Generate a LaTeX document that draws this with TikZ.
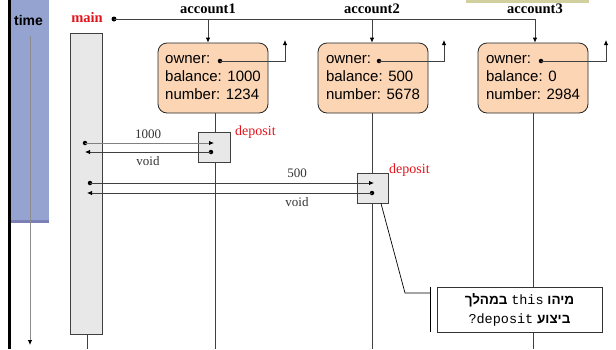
\documentclass[tikz,border=0pt]{standalone}
\usepackage{fontspec}
\setmainfont{Liberation Serif}
\setsansfont{Liberation Sans}
\setmonofont{Liberation Mono}
\newfontfamily\hebfont[Script=Hebrew]{Liberation Sans}
\TeXXeTstate=1
\usetikzlibrary{arrows.meta}
\definecolor{timeblue}{HTML}{95A3D1}
\definecolor{timestripe}{HTML}{7A80B5}
\definecolor{peach}{HTML}{FCD5B4}
\definecolor{actgray}{HTML}{E8E8E8}
\definecolor{linegray}{HTML}{404040}
\definecolor{redtxt}{HTML}{E3141B}
\definecolor{beige}{HTML}{D2D09E}
\newcommand\mytt[1]{{\normalfont\ttfamily\fontsize{13.5}{19}\selectfont #1}}
\begin{document}
\begin{tikzpicture}[x=1pt,y=-1pt,
  obj/.style={draw=black!85, fill=peach, rounded corners=9pt, line width=0.8pt,
    inner sep=0pt, minimum width=110pt, minimum height=70pt,
    align=left, font=\sffamily\fontsize{15}{18}\selectfont},
  act/.style={draw=linegray, fill=actgray, line width=0.8pt, inner sep=0pt},
  pdot/.style={circle, fill=black, inner sep=0pt, minimum size=4.5pt},
  life/.style={draw=linegray, line width=0.8pt},
  arr/.style={-{Latex[length=5pt,width=4.5pt,color=black]}},
  lbl/.style={font=\fontsize{13}{15}\selectfont, text=black!80, inner sep=0pt},
  method/.style={font=\fontsize{14}{16}\selectfont, text=redtxt, anchor=west, inner sep=0pt},
  objname/.style={font=\bfseries\fontsize{14.5}{16}\selectfont, inner sep=0pt},
  note/.style={draw=black!80, fill=white, line width=0.8pt, minimum width=165pt,
    minimum height=45pt, align=center, inner sep=0pt,
    font=\hebfont\bfseries\fontsize{13.5}{19}\selectfont}
]
\useasboundingbox (0,0) rectangle (616,349);
% time band
\fill[timeblue] (10,0) rectangle (49,222);
\fill[timestripe] (10,219.5) rectangle (49,223);
\draw[line width=2.5pt] (9.5,0) -- (9.5,349);
\node[font=\sffamily\bfseries\fontsize{14}{16}\selectfont, inner sep=0pt] (time) at (28.5,20) {time};
\coordinate (ts) at (30,36);
\coordinate (te) at (30,345);
\draw[draw=black!45, line width=0.8pt, arr] (ts) -- (te);
\fill[beige] (466,0) rectangle (589,3);
% main
\node[font=\bfseries\fontsize{14.5}{16}\selectfont, text=redtxt, inner sep=0pt] (mainlbl) at (87,18) {main};
\node[pdot, minimum size=5pt] (md) at (114,19) {};
\coordinate (j1) at (208,19);
\coordinate (j2) at (372,19);
\coordinate (j3) at (535,19);
\node[objname] (n1) at (208,9) {account1};
\node[objname] (n2) at (372,9) {account2};
\node[objname] (n3) at (535,9) {account3};
% lifelines
\coordinate (e0) at (87,349);
\coordinate (e1) at (215,349);
\coordinate (e2) at (372,349);
\coordinate (e3) at (533,349);
\draw[life] (215,113) -- (e1);
\draw[life] (372,113) -- (e2);
\draw[life] (533,113) -- (e3);
% objects
\node[obj] (acc1) at (213,78) {owner:\\balance: 1000\\number: 1234};
\node[obj] (acc2) at (373,78) {owner:\\balance: 500\\number: 5678};
\node[obj] (acc3) at (533,78) {owner:\\balance: 0\\number: 2984};
\draw[life] (md.center) -- (j3);
\draw[life, arr] (j1) -- (j1 |- acc1.north);
\draw[life, arr] (j2) -- (j2 |- acc2.north);
\draw[life, arr] (j3) -- (j3 |- acc3.north);
% owner pointers
\node[pdot] (o1) at (220,61) {};
\node[pdot] (o2) at (379,61) {};
\node[pdot] (o3) at (541,61) {};
\coordinate (u1) at (285,40);
\coordinate (u2) at (444,40);
\coordinate (u3) at (606,40);
\draw[life, arr] (o1.center) -| (u1);
\draw[life, arr] (o2.center) -| (u2);
\draw[life, arr] (o3.center) -| (u3);
% main activation
\node[act, minimum width=32pt, minimum height=301pt] (mainbar) at (86,183.5) {};
\draw[life] (mainbar.south -| e0) -- (e0);
% deposit 1
\node[act, minimum width=32pt, minimum height=30pt] (dep1) at (214,147) {};
\node[method] (m1) at (235,132) {deposit};
\node[pdot] (c1s) at (85,143) {};
\coordinate (c1e) at (214,143);
\draw[draw=black!50, line width=0.8pt, arr] (c1s.center) -- (c1e);
\node[pdot] (r1s) at (211,152) {};
\coordinate (r1e) at (85,152);
\draw[life, arr] (r1s.center) -- (r1e);
\node[lbl] (l1) at (148,134) {1000};
\node[lbl] (l2) at (148,161) {void};
% deposit 2
\node[act, minimum width=31pt, minimum height=30pt] (dep2) at (372.5,188) {};
\node[method] (m2) at (389,170) {deposit};
\node[pdot] (c2s) at (90,183) {};
\coordinate (c2e) at (374,183);
\draw[life, arr] (c2s.center) -- (c2e);
\node[pdot] (r2s) at (372,193) {};
\coordinate (r2e) at (87,193);
\draw[life, arr] (r2s.center) -- (r2e);
\node[lbl] (l3) at (297,173) {500};
\node[lbl] (l4) at (297,202) {void};
% callout
\node[note] (note) at (519.5,309.5) {\beginR מיהו \beginL\mytt{this}\endL{} במהלך\endR\\\beginR ביצוע \beginL\mytt{deposit}\endL\mytt{?}\endR};
\coordinate (k1) at (405,293);
\coordinate (k2) at (430,293);
\draw[black, line width=0.7pt] ([xshift=8.5pt]dep2.south) -- (k1) -- (k2);
\draw[black, line width=0.7pt] (note.north west -| k2) -- (note.south west -| k2);
\end{tikzpicture}
\end{document}
